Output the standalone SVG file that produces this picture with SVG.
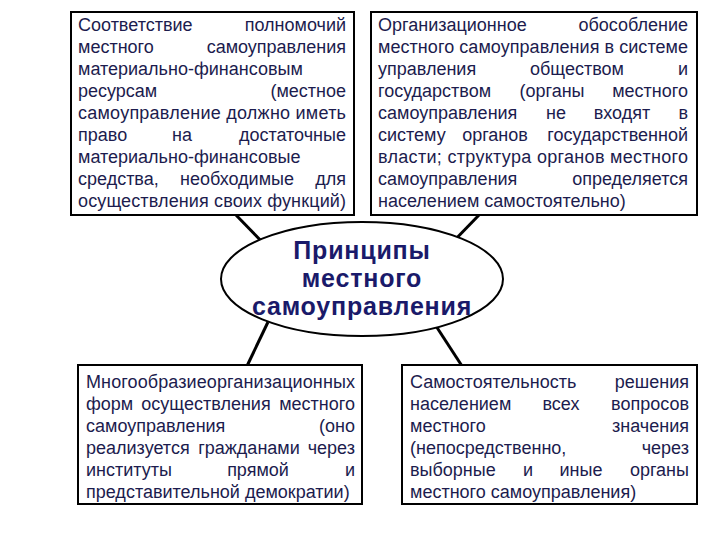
<svg xmlns="http://www.w3.org/2000/svg" width="720" height="540" viewBox="0 0 720 540">
<style>
.box{fill:#ffffff;stroke:#000000;stroke-width:2}
.t{font-family:"Liberation Sans",Arial,sans-serif;font-size:18px;fill:#1c1c4e}
.e{text-anchor:end}
.m{text-anchor:middle}
.title{font-family:"Liberation Sans",Arial,sans-serif;font-size:25px;font-weight:bold;letter-spacing:0.8px;fill:#1a1a6a;text-anchor:middle}
.conn{stroke:#000000;stroke-width:3;fill:none}
</style>
<rect width="720" height="540" fill="#ffffff"/>
<g id="connectors">
<line class="conn" x1="235" y1="214" x2="270" y2="250"/>
<line class="conn" x1="480" y1="214" x2="448" y2="247"/>
<line class="conn" x1="268" y1="322" x2="247" y2="366"/>
<line class="conn" x1="436" y1="326" x2="462" y2="366"/>
</g>
<g id="center">
<ellipse cx="362" cy="279" rx="141" ry="57" fill="#ffffff" stroke="#000000" stroke-width="2"/>
<text class="title" x="362" y="259">Принципы</text>
<text class="title" x="362" y="287">местного</text>
<text class="title" x="362" y="315">самоуправления</text>
</g>
<g id="box-tl">
<rect class="box" x="71" y="12" width="283" height="203"/>
<text class="t" x="78" y="31">Соответствие</text><text class="t e" x="346" y="31">полномочий</text>
<text class="t" x="78" y="53">местного</text><text class="t e" x="346" y="53">самоуправления</text>
<text class="t" x="78" y="75">материально-финансовым</text>
<text class="t" x="78" y="97">ресурсам</text><text class="t e" x="346" y="97">(местное</text>
<text class="t" x="78" y="119" textLength="268" lengthAdjust="spacing">самоуправление должно иметь</text>
<text class="t" x="78" y="141">право</text><text class="t m" x="182" y="141">на</text><text class="t e" x="346" y="141">достаточные</text>
<text class="t" x="78" y="163">материально-финансовые</text>
<text class="t" x="78" y="185">средства,</text><text class="t m" x="237" y="185">необходимые</text><text class="t e" x="346" y="185">для</text>
<text class="t" x="78" y="207" textLength="268" lengthAdjust="spacing">осуществления своих функций)</text>
</g>
<g id="box-tr">
<rect class="box" x="371" y="12" width="326" height="203"/>
<text class="t" x="378" y="31">Организационное</text><text class="t e" x="688" y="31">обособление</text>
<text class="t" x="378" y="53" textLength="310" lengthAdjust="spacing">местного самоуправления в системе</text>
<text class="t" x="378" y="75">управления</text><text class="t m" x="577" y="75">обществом</text><text class="t e" x="688" y="75">и</text>
<text class="t" x="378" y="97">государством</text><text class="t m" x="552" y="97">(органы</text><text class="t e" x="688" y="97">местного</text>
<text class="t" x="378" y="119">самоуправления</text><text class="t m" x="556" y="119">не</text><text class="t m" x="622" y="119">входят</text><text class="t e" x="688" y="119">в</text>
<text class="t" x="378" y="141">систему</text><text class="t m" x="495" y="141">органов</text><text class="t e" x="688" y="141">государственной</text>
<text class="t" x="378" y="163" textLength="310" lengthAdjust="spacing">власти; структура органов местного</text>
<text class="t" x="378" y="185">самоуправления</text><text class="t e" x="688" y="185">определяется</text>
<text class="t" x="378" y="207">населением самостоятельно)</text>
</g>
<g id="box-bl">
<rect class="box" x="78" y="365" width="284" height="139"/>
<text class="t" x="86" y="388" textLength="269" lengthAdjust="spacing">Многообразиеорганизационных</text>
<text class="t" x="86" y="410">форм</text><text class="t m" x="206" y="410">осуществления</text><text class="t e" x="355" y="410">местного</text>
<text class="t" x="86" y="432">самоуправления</text><text class="t e" x="355" y="432">(оно</text>
<text class="t" x="86" y="454">реализуется</text><text class="t m" x="249" y="454">гражданами</text><text class="t e" x="355" y="454">через</text>
<text class="t" x="86" y="476">институты</text><text class="t m" x="258" y="476">прямой</text><text class="t e" x="355" y="476">и</text>
<text class="t" x="86" y="498">представительной демократии)</text>
</g>
<g id="box-br">
<rect class="box" x="402" y="365" width="295" height="139"/>
<text class="t" x="410" y="388">Самостоятельность</text><text class="t e" x="689" y="388">решения</text>
<text class="t" x="410" y="410">населением</text><text class="t m" x="561" y="410">всех</text><text class="t e" x="689" y="410">вопросов</text>
<text class="t" x="410" y="432">местного</text><text class="t e" x="689" y="432">значения</text>
<text class="t" x="410" y="454">(непосредственно,</text><text class="t e" x="689" y="454">через</text>
<text class="t" x="410" y="476">выборные</text><text class="t m" x="528" y="476">и</text><text class="t m" x="581" y="476">иные</text><text class="t e" x="689" y="476">органы</text>
<text class="t" x="410" y="498">местного самоуправления)</text>
</g>
</svg>
